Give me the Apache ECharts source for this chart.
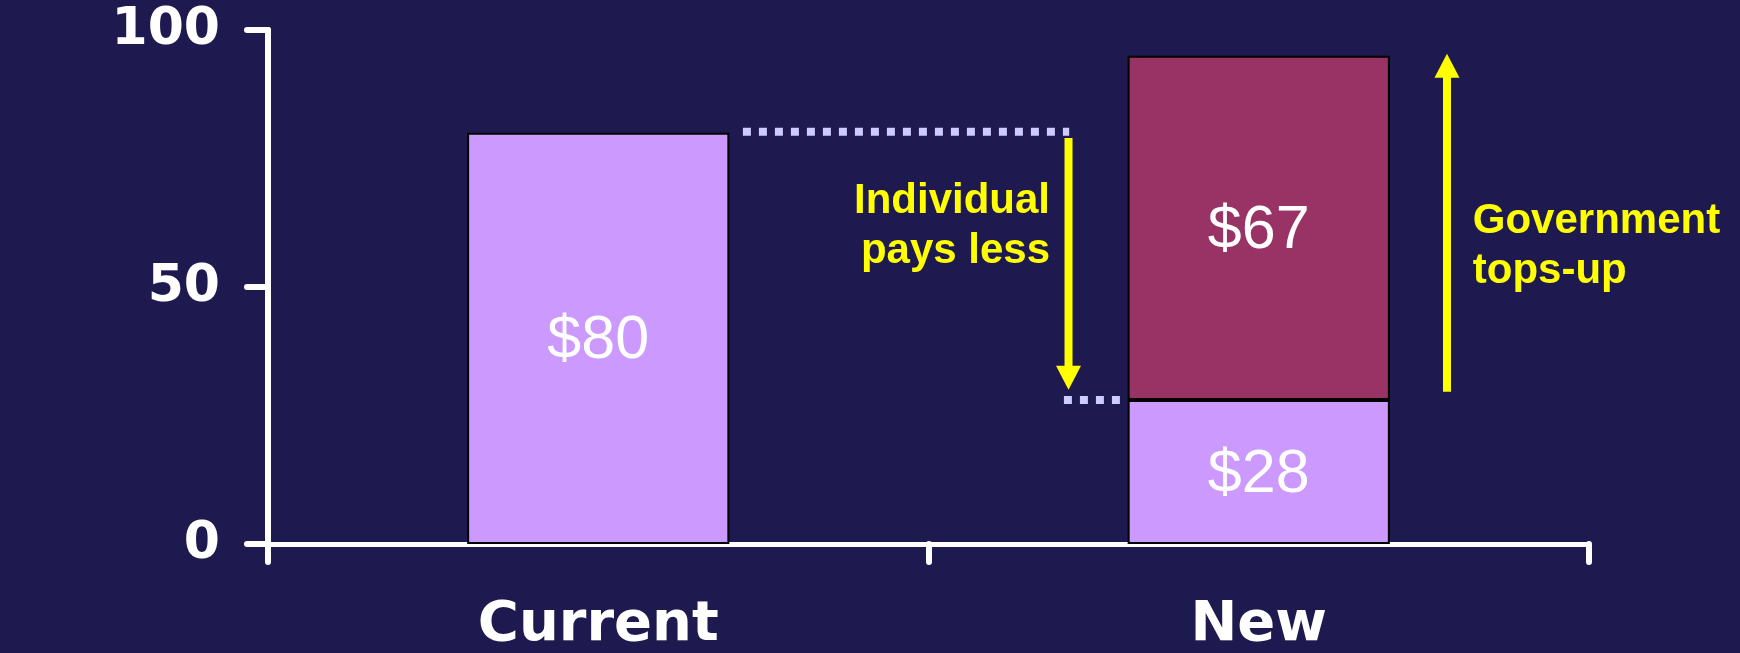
<!DOCTYPE html>
<html>
<head>
<meta charset="utf-8">
<script src="https://cdn.jsdelivr.net/npm/echarts@6/dist/echarts.min.js"></script>
<style>
html,body{margin:0;padding:0;background:#1e1a4f;}
#chart{width:1740px;height:653px;}
</style>
</head>
<body>
<div id="chart"></div>
<script>
// ---- data ----
const categories = ['Current', 'New'];
const individualValues = [80, 28];
const governmentValues = ['-', 67];
const yTicks = { min: 0, max: 100, interval: 50 };

// annotation positions (x in category-band units 0..2, y in data units)
const dropLineTop = [[0.719, 80.2], [1.213, 80.2]];
const dropLineBottom = [[1.205, 28], [1.291, 28]];
const arrowDown = [[1.212, 79], [1.212, 32]];
const arrowDownTip = [1.212, 30];
const arrowUp = [[1.785, 29.6], [1.785, 93]];
const arrowUpTip = [1.785, 95.4];
const individualNote = { pos: [1.184, 61.7], text: 'Individual\npays less' };
const governmentNote = { pos: [1.824, 57.8], text: 'Government\ntops-up' };

const AXIS_FONT = 'DejaVu Sans';
const TEXT_FONT = 'Liberation Sans';
const YELLOW = '#ffff00';

const chart = echarts.init(document.getElementById('chart'));

const barLabel = {
  show: true,
  position: 'inside',
  offset: [0, 3],
  color: '#ffffff',
  fontFamily: TEXT_FONT,
  fontSize: 61,
  fontWeight: 'normal',
  formatter: p => '$' + p.value
};

const shaft = (pts) => ({
  type: 'line',
  xAxisIndex: 1,
  yAxisIndex: 0,
  data: pts,
  symbol: 'none',
  silent: true,
  lineStyle: { color: YELLOW, width: 8, cap: 'butt' }
});

const head = (tip, rotate, offsetY) => ({
  type: 'scatter',
  xAxisIndex: 1,
  yAxisIndex: 0,
  data: [tip],
  symbol: 'triangle',
  symbolSize: [25, 24],
  symbolRotate: rotate,
  symbolOffset: [0, offsetY],
  silent: true,
  itemStyle: { color: YELLOW, opacity: 1 }
});

const dotted = (pts) => ({
  type: 'line',
  xAxisIndex: 1,
  yAxisIndex: 0,
  data: pts,
  symbol: 'none',
  silent: true,
  lineStyle: { color: '#ccccff', width: 8, type: [8, 8], cap: 'butt' }
});

const note = (n, side) => ({
  type: 'scatter',
  xAxisIndex: 1,
  yAxisIndex: 0,
  data: [n.pos],
  symbolSize: 0,
  silent: true,
  itemStyle: { opacity: 1 },
  label: {
    show: true,
    position: side,
    distance: 0,
    formatter: n.text,
    color: YELLOW,
    opacity: 1,
    fontFamily: TEXT_FONT,
    fontWeight: 'bold',
    fontSize: 42,
    lineHeight: 50
  }
});

chart.setOption({
  backgroundColor: '#1e1a4f',
  animation: false,
  grid: { left: 268, right: 151, top: 30, bottom: 105, containLabel: false },
  xAxis: [
    {
      type: 'category',
      data: categories,
      axisLine: { show: true, lineStyle: { color: '#ffffff', width: 5, cap: 'round' } },
      axisTick: { show: true, alignWithLabel: false, length: 18, lineStyle: { color: '#ffffff', width: 6, cap: 'round' } },
      axisLabel: { color: '#ffffff', fontFamily: AXIS_FONT, fontWeight: 'bold', fontSize: 56, margin: 53 },
      splitLine: { show: false }
    },
    { type: 'value', min: 0, max: 2, show: false }
  ],
  yAxis: {
    type: 'value',
    min: yTicks.min,
    max: yTicks.max,
    interval: yTicks.interval,
    axisLine: { show: true, lineStyle: { color: '#ffffff', width: 6, cap: 'round' } },
    axisTick: { show: true, length: 21, lineStyle: { color: '#ffffff', width: 6, cap: 'round' } },
    axisLabel: { color: '#ffffff', fontFamily: AXIS_FONT, fontWeight: 'bold', fontSize: 52, margin: 48 },
    splitLine: { show: false }
  },
  series: [
    {
      name: 'Individual',
      type: 'bar',
      stack: 'cost',
      barWidth: '39.7%',
      data: individualValues,
      itemStyle: { color: '#cc99ff', borderColor: '#000000', borderWidth: 2 },
      label: barLabel
    },
    {
      name: 'Government',
      type: 'bar',
      stack: 'cost',
      barWidth: '39.7%',
      data: governmentValues,
      itemStyle: { color: '#993366', borderColor: '#000000', borderWidth: 2 },
      label: barLabel
    },
    dotted(dropLineTop),
    dotted(dropLineBottom),
    shaft(arrowDown),
    shaft(arrowUp),
    head(arrowDownTip, 180, -12),
    head(arrowUpTip, 0, 12),
    note(individualNote, 'left'),
    note(governmentNote, 'right')
  ]
});
</script>
</body>
</html>
